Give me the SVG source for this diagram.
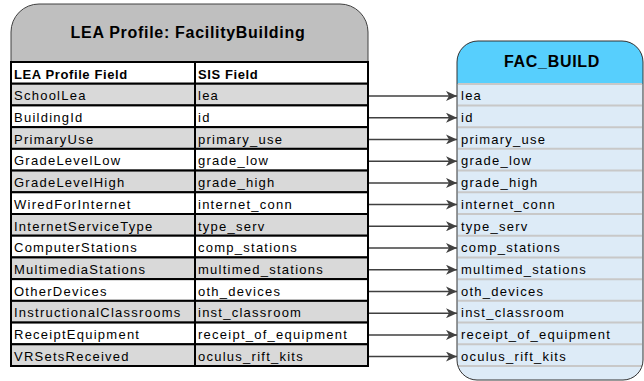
<svg xmlns="http://www.w3.org/2000/svg" width="644" height="381" viewBox="0 0 644 381">
<defs>
<style>
.t{font-family:"Liberation Sans",Arial,sans-serif;font-size:13px;letter-spacing:1.25px;fill:#000}
.h{font-family:"Liberation Sans",Arial,sans-serif;font-size:13px;font-weight:bold;letter-spacing:0.6px;fill:#000}
.title{font-family:"Liberation Sans",Arial,sans-serif;font-size:16px;font-weight:bold;letter-spacing:0.7px;fill:#000;text-anchor:middle}
.w{fill:#FFFFFF;stroke:#000;stroke-width:2}
.g{fill:#D9D9D9;stroke:#000;stroke-width:2}
.sep{stroke:#C8C8C8;stroke-width:2}
.c{stroke:#404040;stroke-width:1.5;fill:none}
</style>
<marker id="arr" markerWidth="12" markerHeight="10" refX="11" refY="5" orient="auto" markerUnits="userSpaceOnUse">
<path d="M0,0 L11,5 L0,10 L3,5 Z" fill="#404040"/>
</marker>
</defs>

<g id="lea-profile">
<path d="M11,62 V32 A28,28 0 0 1 39,4 H340 A28,28 0 0 1 368,32 V62 Z" fill="#BFBFBF" stroke="#404040" stroke-width="1"/>
<text class="title" x="188" y="38">LEA Profile: FacilityBuilding</text>
<rect class="w" x="11" y="62" width="184" height="21.71"/><rect class="w" x="195" y="62" width="173" height="21.71"/>
<rect class="g" x="11" y="83.71" width="184" height="21.71"/><rect class="g" x="195" y="83.71" width="173" height="21.71"/>
<rect class="w" x="11" y="105.43" width="184" height="21.71"/><rect class="w" x="195" y="105.43" width="173" height="21.71"/>
<rect class="g" x="11" y="127.14" width="184" height="21.71"/><rect class="g" x="195" y="127.14" width="173" height="21.71"/>
<rect class="w" x="11" y="148.86" width="184" height="21.71"/><rect class="w" x="195" y="148.86" width="173" height="21.71"/>
<rect class="g" x="11" y="170.57" width="184" height="21.71"/><rect class="g" x="195" y="170.57" width="173" height="21.71"/>
<rect class="w" x="11" y="192.29" width="184" height="21.71"/><rect class="w" x="195" y="192.29" width="173" height="21.71"/>
<rect class="g" x="11" y="214" width="184" height="21.71"/><rect class="g" x="195" y="214" width="173" height="21.71"/>
<rect class="w" x="11" y="235.71" width="184" height="21.71"/><rect class="w" x="195" y="235.71" width="173" height="21.71"/>
<rect class="g" x="11" y="257.43" width="184" height="21.71"/><rect class="g" x="195" y="257.43" width="173" height="21.71"/>
<rect class="w" x="11" y="279.14" width="184" height="21.71"/><rect class="w" x="195" y="279.14" width="173" height="21.71"/>
<rect class="g" x="11" y="300.86" width="184" height="21.71"/><rect class="g" x="195" y="300.86" width="173" height="21.71"/>
<rect class="w" x="11" y="322.57" width="184" height="21.71"/><rect class="w" x="195" y="322.57" width="173" height="21.71"/>
<rect class="g" x="11" y="344.29" width="184" height="21.71"/><rect class="g" x="195" y="344.29" width="173" height="21.71"/>
<text class="h" x="14" y="78.5">LEA Profile Field</text><text class="h" x="198" y="78.5">SIS Field</text>
<text class="t" x="14" y="100.2">SchoolLea</text><text class="t" x="198" y="100.2">lea</text>
<text class="t" x="14" y="121.9">BuildingId</text><text class="t" x="198" y="121.9">id</text>
<text class="t" x="14" y="143.6">PrimaryUse</text><text class="t" x="198" y="143.6">primary_use</text>
<text class="t" x="14" y="165.4">GradeLevelLow</text><text class="t" x="198" y="165.4">grade_low</text>
<text class="t" x="14" y="187.1">GradeLevelHigh</text><text class="t" x="198" y="187.1">grade_high</text>
<text class="t" x="14" y="208.8">WiredForInternet</text><text class="t" x="198" y="208.8">internet_conn</text>
<text class="t" x="14" y="230.5">InternetServiceType</text><text class="t" x="198" y="230.5">type_serv</text>
<text class="t" x="14" y="252.2">ComputerStations</text><text class="t" x="198" y="252.2">comp_stations</text>
<text class="t" x="14" y="273.9">MultimediaStations</text><text class="t" x="198" y="273.9">multimed_stations</text>
<text class="t" x="14" y="295.6">OtherDevices</text><text class="t" x="198" y="295.6">oth_devices</text>
<text class="t" x="14" y="317.4">InstructionalClassrooms</text><text class="t" x="198" y="317.4">inst_classroom</text>
<text class="t" x="14" y="339.1">ReceiptEquipment</text><text class="t" x="198" y="339.1">receipt_of_equipment</text>
<text class="t" x="14" y="360.8">VRSetsReceived</text><text class="t" x="198" y="360.8">oculus_rift_kits</text>
</g>

<g id="fac-build">
<path d="M457,62 A21,21 0 0 1 478,41 H622 A21,21 0 0 1 643,62 V360 A20,20 0 0 1 623,380 H477 A20,20 0 0 1 457,360 Z" fill="#DDEBF7"/>
<path d="M457,84 V62 A21,21 0 0 1 478,41 H622 A21,21 0 0 1 643,62 V84 Z" fill="#57CFFD"/>
<text class="title" x="552" y="67">FAC_BUILD</text>
<line class="sep" x1="458" y1="84" x2="642" y2="84"/>
<line class="sep" x1="458" y1="105.43" x2="642" y2="105.43"/>
<line class="sep" x1="458" y1="127.14" x2="642" y2="127.14"/>
<line class="sep" x1="458" y1="148.86" x2="642" y2="148.86"/>
<line class="sep" x1="458" y1="170.57" x2="642" y2="170.57"/>
<line class="sep" x1="458" y1="192.29" x2="642" y2="192.29"/>
<line class="sep" x1="458" y1="214" x2="642" y2="214"/>
<line class="sep" x1="458" y1="235.71" x2="642" y2="235.71"/>
<line class="sep" x1="458" y1="257.43" x2="642" y2="257.43"/>
<line class="sep" x1="458" y1="279.14" x2="642" y2="279.14"/>
<line class="sep" x1="458" y1="300.86" x2="642" y2="300.86"/>
<line class="sep" x1="458" y1="322.57" x2="642" y2="322.57"/>
<line class="sep" x1="458" y1="344.29" x2="642" y2="344.29"/>
<line class="sep" x1="458" y1="366" x2="642" y2="366"/>
<path d="M457,62 A21,21 0 0 1 478,41 H622 A21,21 0 0 1 643,62 V360 A20,20 0 0 1 623,380 H477 A20,20 0 0 1 457,360 Z" fill="none" stroke="#333333" stroke-width="1"/>
<text class="t" x="461" y="100.2">lea</text>
<text class="t" x="461" y="121.9">id</text>
<text class="t" x="461" y="143.6">primary_use</text>
<text class="t" x="461" y="165.4">grade_low</text>
<text class="t" x="461" y="187.1">grade_high</text>
<text class="t" x="461" y="208.8">internet_conn</text>
<text class="t" x="461" y="230.5">type_serv</text>
<text class="t" x="461" y="252.2">comp_stations</text>
<text class="t" x="461" y="273.9">multimed_stations</text>
<text class="t" x="461" y="295.6">oth_devices</text>
<text class="t" x="461" y="317.4">inst_classroom</text>
<text class="t" x="461" y="339.1">receipt_of_equipment</text>
<text class="t" x="461" y="360.8">oculus_rift_kits</text>
</g>

<g id="connectors">
<line class="c" x1="369" y1="96" x2="457" y2="96" marker-end="url(#arr)"/>
<line class="c" x1="369" y1="117.7" x2="457" y2="117.7" marker-end="url(#arr)"/>
<line class="c" x1="369" y1="139.4" x2="457" y2="139.4" marker-end="url(#arr)"/>
<line class="c" x1="369" y1="161.2" x2="457" y2="161.2" marker-end="url(#arr)"/>
<line class="c" x1="369" y1="182.9" x2="457" y2="182.9" marker-end="url(#arr)"/>
<line class="c" x1="369" y1="204.6" x2="457" y2="204.6" marker-end="url(#arr)"/>
<line class="c" x1="369" y1="226.3" x2="457" y2="226.3" marker-end="url(#arr)"/>
<line class="c" x1="369" y1="248" x2="457" y2="248" marker-end="url(#arr)"/>
<line class="c" x1="369" y1="269.7" x2="457" y2="269.7" marker-end="url(#arr)"/>
<line class="c" x1="369" y1="291.4" x2="457" y2="291.4" marker-end="url(#arr)"/>
<line class="c" x1="369" y1="313.2" x2="457" y2="313.2" marker-end="url(#arr)"/>
<line class="c" x1="369" y1="334.9" x2="457" y2="334.9" marker-end="url(#arr)"/>
<line class="c" x1="369" y1="356.6" x2="457" y2="356.6" marker-end="url(#arr)"/>
</g>
</svg>
